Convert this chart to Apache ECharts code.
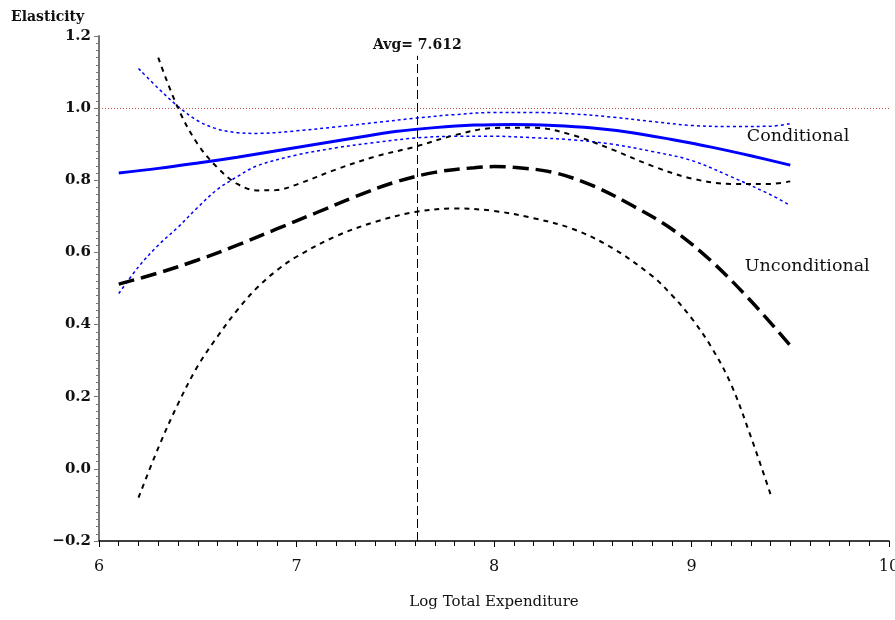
<!DOCTYPE html>
<html>
<head>
<meta charset="utf-8">
<script src="https://cdn.jsdelivr.net/npm/echarts@6/dist/echarts.min.js"></script>
<style>
  html, body { margin: 0; padding: 0; background: #fff; }
  #main { width: 895px; height: 620px; }
</style>
</head>
<body>
<div id="main"></div>
<script>
// conditional elasticity (blue) and its band
var condX = [6.1, 6.3, 6.5, 6.7, 6.9, 7.1, 7.3, 7.5, 7.7, 7.9, 8.1, 8.3, 8.5, 8.7, 8.9, 9.1, 9.3, 9.5];
var condY = [0.82, 0.833, 0.848, 0.864, 0.882, 0.900, 0.918, 0.935, 0.946, 0.953, 0.955, 0.952, 0.945, 0.932, 0.913, 0.892, 0.868, 0.842];

var condUpX = [6.2, 6.3, 6.4, 6.5, 6.6, 6.7, 6.8, 7.0, 7.2, 7.4, 7.6, 7.8, 8.0, 8.2, 8.4, 8.6, 8.8, 9.0, 9.2, 9.4, 9.5];
var condUpY = [1.11, 1.055, 1.005, 0.965, 0.942, 0.932, 0.930, 0.937, 0.948, 0.960, 0.972, 0.982, 0.988, 0.988, 0.984, 0.975, 0.963, 0.952, 0.949, 0.950, 0.957];

var condLoX = [6.1, 6.2, 6.3, 6.4, 6.5, 6.6, 6.7, 6.8, 7.0, 7.2, 7.4, 7.6, 7.8, 8.0, 8.2, 8.4, 8.6, 8.8, 9.0, 9.2, 9.4, 9.5];
var condLoY = [0.486, 0.56, 0.62, 0.67, 0.725, 0.775, 0.81, 0.84, 0.87, 0.89, 0.905, 0.917, 0.922, 0.922, 0.918, 0.912, 0.9, 0.88, 0.855, 0.81, 0.76, 0.73];

// unconditional elasticity (black) and its band
var uncX = [6.1, 6.3, 6.5, 6.7, 6.9, 7.1, 7.3, 7.5, 7.7, 7.9, 8.0, 8.1, 8.3, 8.5, 8.7, 8.9, 9.1, 9.3, 9.5];
var uncY = [0.512, 0.543, 0.579, 0.62, 0.665, 0.71, 0.755, 0.795, 0.822, 0.835, 0.838, 0.836, 0.822, 0.785, 0.73, 0.665, 0.576, 0.466, 0.342];

var uncUpX = [6.3, 6.4, 6.5, 6.6, 6.7, 6.8, 6.9, 7.0, 7.2, 7.4, 7.6, 7.8, 8.0, 8.2, 8.4, 8.6, 8.8, 9.0, 9.2, 9.4, 9.5];
var uncUpY = [1.14, 1.0, 0.9, 0.835, 0.79, 0.772, 0.773, 0.788, 0.83, 0.866, 0.893, 0.925, 0.945, 0.946, 0.925, 0.885, 0.84, 0.805, 0.79, 0.79, 0.797];

var uncLoX = [6.2, 6.3, 6.4, 6.5, 6.6, 6.7, 6.8, 6.9, 7.0, 7.2, 7.4, 7.6, 7.8, 8.0, 8.2, 8.4, 8.6, 8.8, 8.9, 9.0, 9.1, 9.2, 9.3, 9.4];
var uncLoY = [-0.08, 0.058, 0.18, 0.285, 0.367, 0.44, 0.502, 0.55, 0.588, 0.645, 0.685, 0.712, 0.722, 0.715, 0.695, 0.665, 0.612, 0.535, 0.482, 0.418, 0.338, 0.235, 0.09, -0.07];

var avgX = 7.612;
var refY = 1.0;

var FONT = 'DejaVu Serif';

function pairs(xs, ys) {
    var out = [];
    for (var i = 0; i < xs.length; i++) {
        out.push([xs[i], ys[i]]);
    }
    return out;
}

function lineSeries(name, xs, ys, color, width, type) {
    return {
        name: name,
        type: 'line',
        data: pairs(xs, ys),
        smooth: 0.35,
        showSymbol: false,
        silent: true,
        lineStyle: { color: color, width: width, type: type }
    };
}

var series = [
    lineSeries('condUp', condUpX, condUpY, '#0000ff', 1.5, [3, 3]),
    lineSeries('condLo', condLoX, condLoY, '#0000ff', 1.5, [3, 3]),
    lineSeries('uncUp', uncUpX, uncUpY, '#000', 2, [5, 5]),
    lineSeries('uncLo', uncLoX, uncLoY, '#000', 2, [5, 5]),
    lineSeries('Unconditional', uncX, uncY, '#000', 3.5, [16, 7]),
    lineSeries('Conditional', condX, condY, '#0000ff', 3, 'solid')
];

// reference line at 1 and the average marker
series[5].markLine = {
    silent: true,
    symbol: 'none',
    label: { show: false },
    data: [
        [{ coord: [6, refY], lineStyle: { color: '#c0504d', width: 1, type: [1, 2] } },
         { coord: [10, refY] }],
        [{ coord: [avgX, -0.2], lineStyle: { color: '#000', width: 1, type: [9, 4] } },
         { coord: [avgX, 1.145] }]
    ]
};

series[5].markPoint = {
    silent: true,
    symbolSize: 0,
    data: [
        { coord: [9.28, 0.922], label: { show: true, formatter: 'Conditional', position: 'right', distance: 0, fontFamily: FONT, fontSize: 17.5, color: '#111' } },
        { coord: [9.27, 0.561], label: { show: true, formatter: 'Unconditional', position: 'right', distance: 0, fontFamily: FONT, fontSize: 17.5, color: '#111' } },
        { coord: [avgX, 1.175], label: { show: true, formatter: 'Avg= 7.612', position: 'inside', fontFamily: FONT, fontSize: 14, fontWeight: 'bold', color: '#111' } }
    ]
};

var option = {
    animation: false,
    backgroundColor: '#fff',
    grid: { left: 99, right: 6, top: 36, bottom: 79, outerBoundsMode: 'none', containLabel: false },
    xAxis: {
        type: 'value',
        min: 6,
        max: 10,
        interval: 1,
        name: 'Log Total Expenditure',
        nameLocation: 'middle',
        nameGap: 54,
        nameTextStyle: { fontFamily: FONT, fontSize: 15, color: '#111' },
        axisLine: { onZero: false, lineStyle: { color: '#000', width: 1.5 } },
        axisTick: { length: 6, lineStyle: { color: '#000' } },
        minorTick: { show: true, splitNumber: 10, length: 5, lineStyle: { color: '#000' } },
        axisLabel: { fontFamily: FONT, fontSize: 16, color: '#111', margin: 18 },
        splitLine: { show: false }
    },
    yAxis: {
        type: 'value',
        min: -0.2,
        max: 1.2,
        interval: 0.2,
        name: 'Elasticity',
        nameLocation: 'end',
        nameGap: 12,
        nameTextStyle: { fontFamily: FONT, fontSize: 14, fontWeight: 'bold', color: '#111', align: 'left', padding: [0, 0, 0, -88] },
        axisLine: { show: true, lineStyle: { color: '#777', width: 2 } },
        axisTick: { show: true, length: 5, lineStyle: { color: '#777' } },
        minorTick: { show: true, splitNumber: 10, length: 3, lineStyle: { color: '#777' } },
        axisLabel: {
            fontFamily: FONT, fontSize: 15, fontWeight: 'bold', color: '#111', margin: 8,
            formatter: function (v) {
                var s = Math.abs(v).toFixed(1);
                return v < 0 ? '\u2212' + s : s;
            }
        },
        splitLine: { show: false }
    },
    series: series
};

echarts.init(document.getElementById('main')).setOption(option);
</script>
</body>
</html>
